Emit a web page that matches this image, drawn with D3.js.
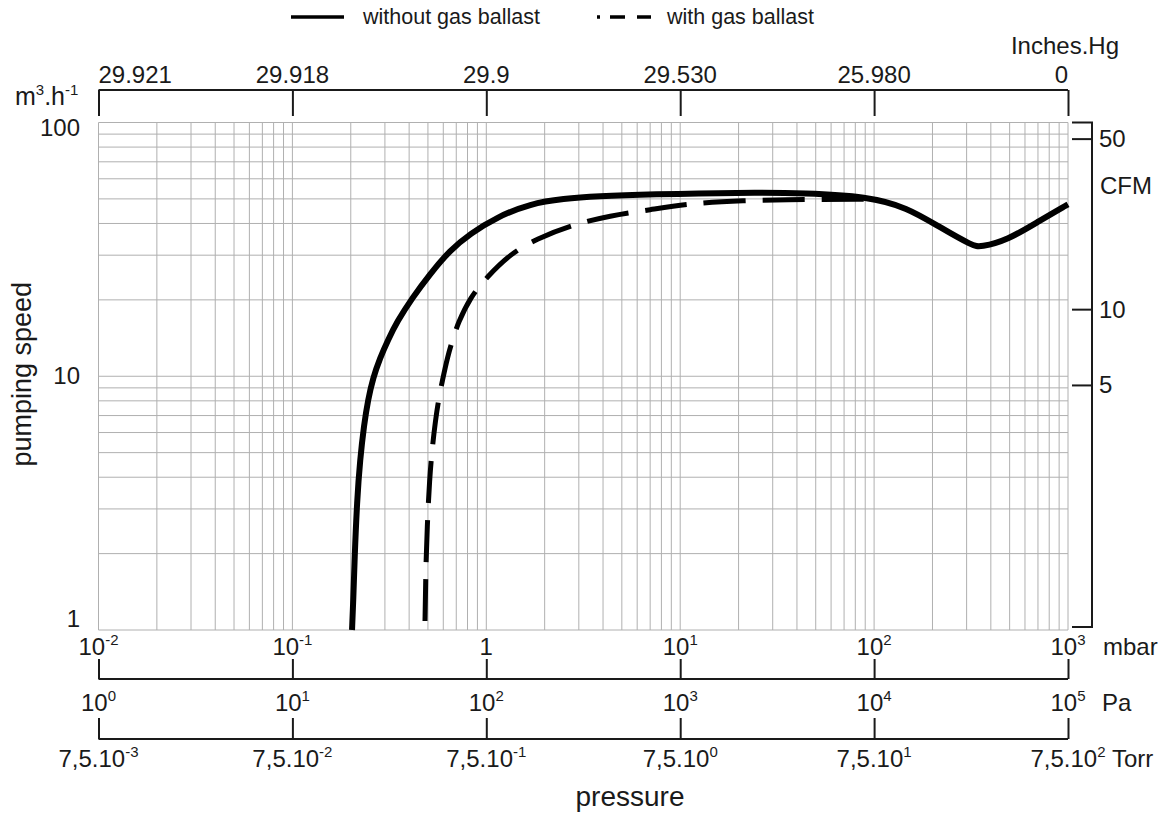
<!DOCTYPE html>
<html>
<head>
<meta charset="utf-8">
<script src="https://cdn.jsdelivr.net/npm/d3@7"></script>
<style>
  html, body { margin: 0; padding: 0; background: #fff; }
  svg { display: block; }
  text { font-family: "Liberation Sans", Arial, Helvetica, sans-serif; fill: #1a1a1a; }
</style>
</head>
<body>
<svg id="chart" width="1164" height="815"></svg>
<script>
// ---------------- data ----------------
const mbarTicks   = [0.01, 0.1, 1, 10, 100, 1000];
const mbarLabels  = ["10^-2", "10^-1", "1", "10^1", "10^2", "10^3"];
const paLabels    = ["10^0", "10^1", "10^2", "10^3", "10^4", "10^5"];
const torrLabels  = ["7,5.10^-3", "7,5.10^-2", "7,5.10^-1", "7,5.10^0", "7,5.10^1", "7,5.10^2"];
const inchLabels  = ["29.921", "29.918", "29.9", "29.530", "25.980", "0"];
const speedTicks  = [1, 10, 100];
const speedLabels = ["1", "10", "100"];
const cfmTicks    = [50, 10, 5];
const cfmEquiv    = [86, 18.3, 9.2];   // m3/h position of each CFM tick

// without gas ballast (pressure in mbar, speed in m3/h)
const solidPressure = [0.2030, 0.2060, 0.2091, 0.2155, 0.2233, 0.2340, 0.2454, 0.2604, 0.2830, 0.3112, 0.3464, 0.4139, 0.5125, 0.6501, 0.8271, 1.136, 1.686, 2.503, 3.72, 7.0, 20.4, 45, 92, 148, 219, 324, 352, 485, 717, 1000];
const solidSpeed    = [1.0,    1.30,   1.888,  3.253,  4.677,  6.43,   8.06,   9.84,   11.8,   13.9,   16.4,   20.3,   25.3,   31.4,   36.5,   42.4,  47.9,  50.1,  51.2, 52.1, 53.0, 52.7, 51.1, 46.3, 38.6, 32.6, 32.3, 34.3, 41.1, 47.6];
// with gas ballast
const dashedPressure = [0.4829, 0.4858, 0.4887, 0.4974, 0.5096, 0.5248, 0.5470, 0.5669, 0.5944, 0.6308, 0.6694, 0.7145, 0.8271, 1.008, 1.330, 1.825, 2.71, 4.36, 7.0, 11.3, 20.4, 45, 92];
const dashedSpeed    = [1.085,  1.40,   1.854,  2.713,  3.90,   5.12,   6.72,   8.06,   9.66,   11.9,   13.9,   16.2,   20.5,   24.6,  30.4,  34.8,  39.3, 43.0, 45.3, 48.0, 49.3, 49.8, 49.8];

const seriesNames = ["without gas ballast", "with gas ballast"];

// ---------------- drawing ----------------
const svg = d3.select("#chart");
const x = d3.scaleLog().domain([0.01, 1000]).range([98.5, 1068]);
const y = d3.scaleLog().domain([1, 100]).range([630, 122.5]);

const TICK_FS = 24, SUP_FS = 15;

function richText(sel, label, supFs) {
  const parts = label.split("^");
  sel.append("tspan").text(parts[0]);
  if (parts.length > 1) {
    sel.append("tspan").attr("dy", -10).attr("font-size", supFs || SUP_FS).text(parts[1]);
  }
}

// grid
const grid = svg.append("g").attr("stroke", "#b0b0b0").attr("stroke-width", 1).attr("fill", "none");
const xMinor = [];
for (let e = -2; e < 3; e++) for (let m = 1; m < 10; m++) xMinor.push(m * Math.pow(10, e));
xMinor.push(1000);
const yMinor = [];
for (let e = 0; e < 2; e++) for (let m = 1; m < 10; m++) yMinor.push(m * Math.pow(10, e));
yMinor.push(100);
grid.selectAll("line.v").data(xMinor).join("line").attr("class", "v")
  .attr("x1", d => x(d)).attr("x2", d => x(d)).attr("y1", y(100)).attr("y2", y(1));
grid.selectAll("line.h").data(yMinor).join("line").attr("class", "h")
  .attr("x1", x(0.01)).attr("x2", x(1000)).attr("y1", d => y(d)).attr("y2", d => y(d));

// top inches Hg axis
const topAxisY = 90;
const topG = svg.append("g").attr("transform", `translate(0,${topAxisY})`);
topG.call(d3.axisBottom(x).tickValues(mbarTicks).tickSize(26).tickFormat(""));
topG.select(".domain").attr("d", `M${x(0.01)},0H${x(1000)}`);
topG.selectAll("path,line").attr("stroke", "#1a1a1a").attr("stroke-width", 2);
svg.append("g").selectAll("text").data(mbarTicks).join("text")
  .attr("x", d => x(d)).attr("y", 83)
  .attr("text-anchor", (d, i) => i === 0 ? "start" : (i === mbarTicks.length - 1 ? "end" : "middle"))
  .attr("font-size", TICK_FS)
  .text((d, i) => inchLabels[i]);
svg.append("text").attr("x", 1119).attr("y", 54).attr("text-anchor", "end").attr("font-size", 24).text("Inches.Hg");

// m3.h-1 label
const unitT = svg.append("text").attr("x", 15).attr("y", 105).attr("font-size", 25);
unitT.append("tspan").text("m");
unitT.append("tspan").attr("dy", -10).attr("font-size", 15).text("3");
unitT.append("tspan").attr("dy", 10).text(".h");
unitT.append("tspan").attr("dy", -10).attr("font-size", 15).text("-1");

// left speed labels
svg.append("g").selectAll("text").data(speedTicks).join("text")
  .attr("x", 80)
  .attr("y", (d, i) => y(d) + (i === 0 ? -3 : (i === speedTicks.length - 1 ? 13 : 8)))
  .attr("text-anchor", "end").attr("font-size", TICK_FS)
  .text((d, i) => speedLabels[i]);

svg.append("text").attr("transform", `translate(31,${y(10) - 2}) rotate(-90)`)
  .attr("text-anchor", "middle").attr("font-size", 27).text("pumping speed");

// right CFM axis
const cfmX = 1092;
const cfmG = svg.append("g").attr("stroke", "#1a1a1a").attr("stroke-width", 2).attr("fill", "none");
cfmG.append("path").attr("d", `M1072,${y(100)}H${cfmX}V${y(1) - 3}H1072`);
cfmG.selectAll("line").data(cfmEquiv).join("line")
  .attr("x1", 1072).attr("x2", cfmX).attr("y1", d => y(d)).attr("y2", d => y(d));
svg.append("g").selectAll("text").data(cfmTicks).join("text")
  .attr("x", 1099).attr("y", (d, i) => y(cfmEquiv[i]) + 8).attr("font-size", TICK_FS)
  .text(d => d);
svg.append("text").attr("x", 1100).attr("y", 194).attr("font-size", 24).text("CFM");

// mbar axis
const mbarAxisY = 679;
const mbarG = svg.append("g").attr("transform", `translate(0,${mbarAxisY})`);
mbarG.call(d3.axisTop(x).tickValues(mbarTicks).tickSize(20).tickFormat(""));
mbarG.select(".domain").attr("d", `M${x(0.01)},0H${x(1000)}`);
mbarG.selectAll("path,line").attr("stroke", "#1a1a1a").attr("stroke-width", 2);
svg.append("g").selectAll("text").data(mbarTicks).join("text")
  .attr("x", d => x(d)).attr("y", 655).attr("text-anchor", "middle").attr("font-size", TICK_FS)
  .each(function(d, i) { richText(d3.select(this), mbarLabels[i]); });
svg.append("text").attr("x", 1103).attr("y", 655).attr("font-size", 24).text("mbar");

// Pa axis
const paAxisY = 739;
const paG = svg.append("g").attr("transform", `translate(0,${paAxisY})`);
paG.call(d3.axisTop(x).tickValues(mbarTicks).tickSize(21).tickFormat(""));
paG.select(".domain").attr("d", `M${x(0.01)},0H${x(1000)}`);
paG.selectAll("path,line").attr("stroke", "#1a1a1a").attr("stroke-width", 2);
svg.append("g").selectAll("text").data(mbarTicks).join("text")
  .attr("x", d => x(d)).attr("y", 711).attr("text-anchor", "middle").attr("font-size", TICK_FS)
  .each(function(d, i) { richText(d3.select(this), paLabels[i]); });
svg.append("text").attr("x", 1102).attr("y", 711).attr("font-size", 24).text("Pa");

// Torr labels
svg.append("g").selectAll("text").data(mbarTicks).join("text")
  .attr("x", d => x(d)).attr("y", 767).attr("text-anchor", "middle").attr("font-size", TICK_FS)
  .each(function(d, i) { richText(d3.select(this), torrLabels[i]); });
svg.append("text").attr("x", 1112).attr("y", 767).attr("font-size", 24).text("Torr");

svg.append("text").attr("x", 630).attr("y", 806).attr("text-anchor", "middle").attr("font-size", 28).text("pressure");

// curves
const line = d3.line().x(d => x(d[0])).y(d => y(d[1])).curve(d3.curveBasis);
const solidData = solidPressure.map((p, i) => [p, solidSpeed[i]]);
const dashedData = dashedPressure.map((p, i) => [p, dashedSpeed[i]]);

svg.append("path").datum(dashedData).attr("d", line)
  .attr("fill", "none").attr("stroke", "#000").attr("stroke-width", 5)
  .attr("stroke-dasharray", "42,17");
svg.append("path").datum(solidData).attr("d", line)
  .attr("fill", "none").attr("stroke", "#000").attr("stroke-width", 6);

// legend
const leg = svg.append("g");
leg.append("line").attr("x1", 291).attr("x2", 344).attr("y1", 17).attr("y2", 17)
  .attr("stroke", "#000").attr("stroke-width", 3.5);
leg.append("text").attr("x", 363).attr("y", 24).attr("font-size", 21.5).text(seriesNames[0]);
leg.append("line").attr("x1", 597).attr("x2", 651).attr("y1", 17).attr("y2", 17)
  .attr("stroke", "#000").attr("stroke-width", 3.5).attr("stroke-dasharray", "3,10,15,12,14");
leg.append("text").attr("x", 667).attr("y", 24).attr("font-size", 21.5).text(seriesNames[1]);
</script>
</body>
</html>
